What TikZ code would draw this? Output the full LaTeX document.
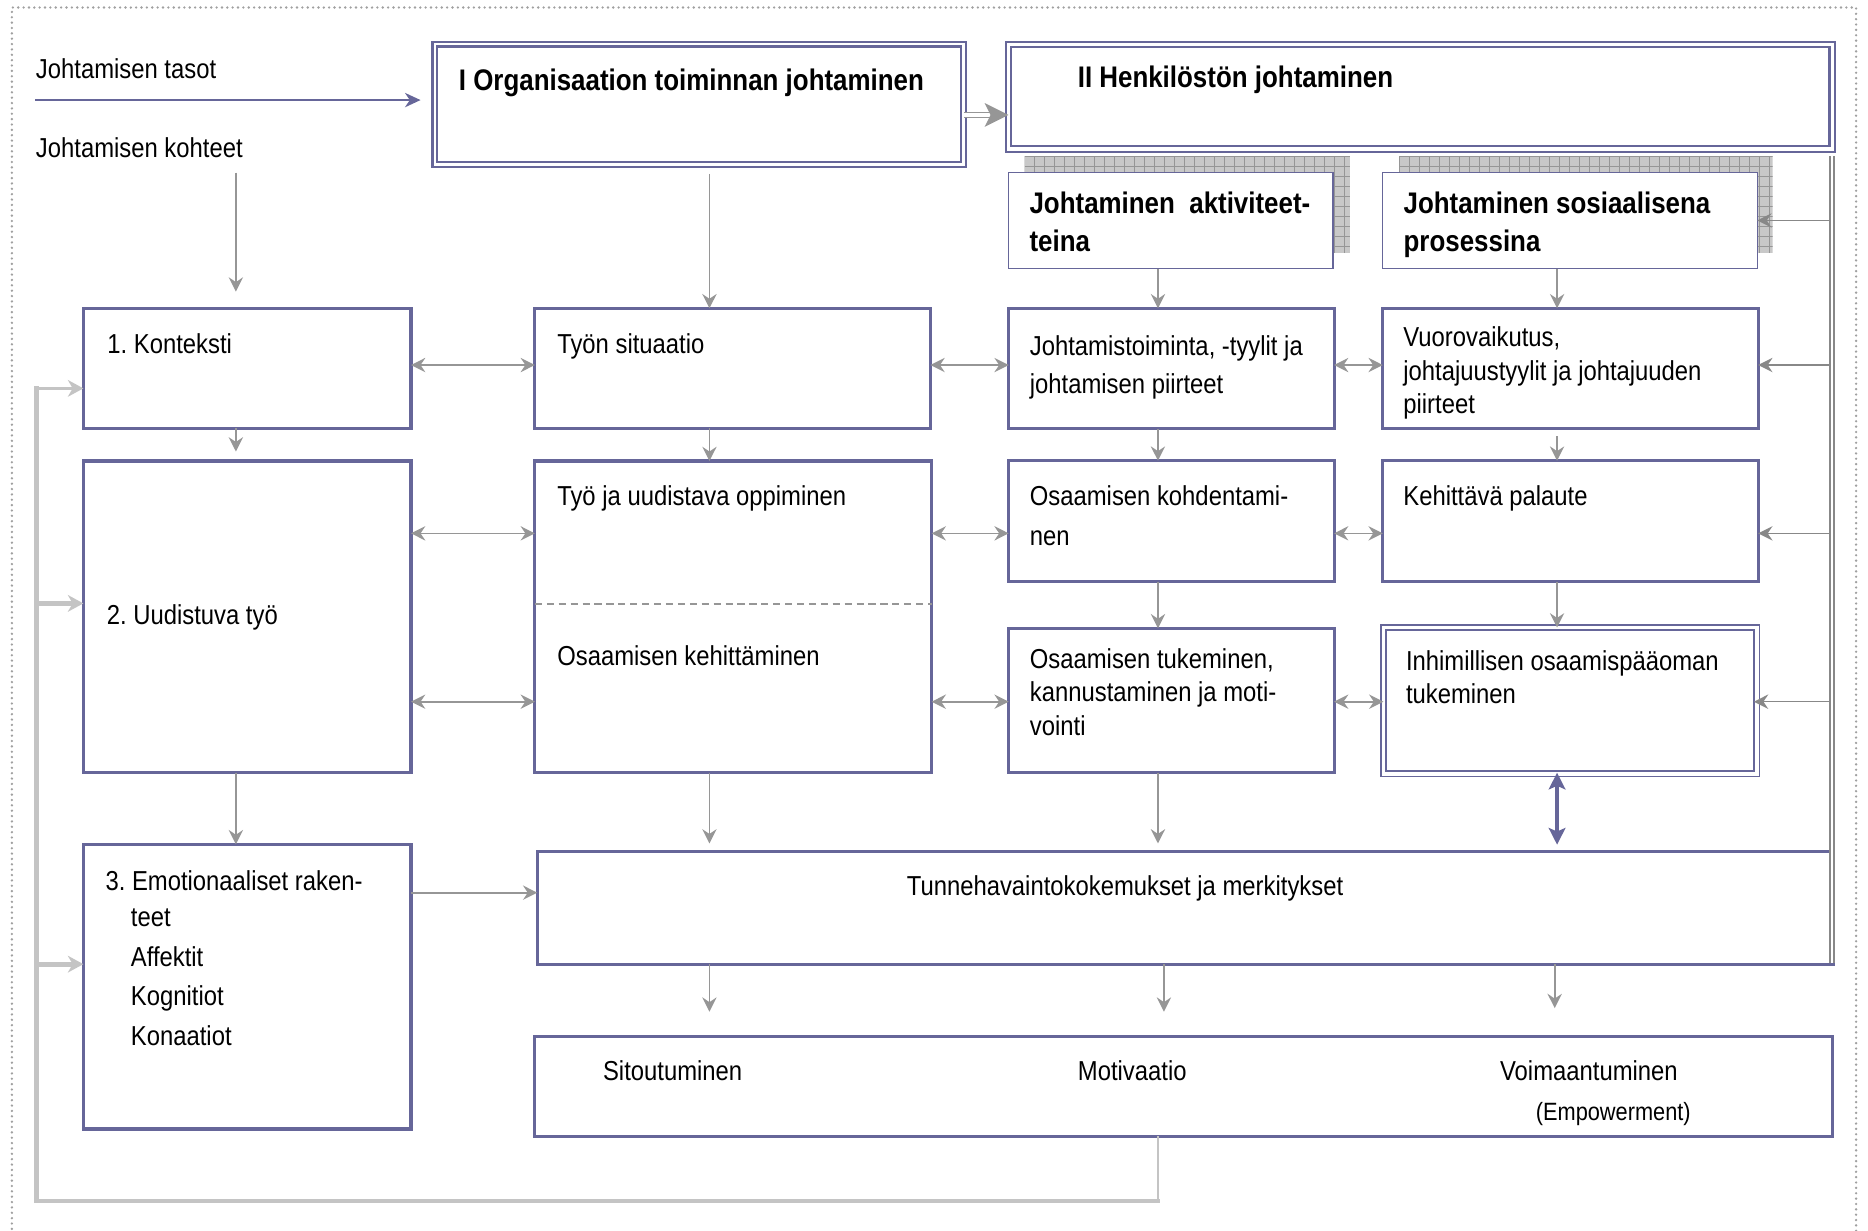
\documentclass[tikz,border=0pt]{standalone}
\usepackage{fontspec}
\setmainfont{Liberation Sans}[FakeStretch=0.87]
\frenchspacing
\usetikzlibrary{arrows.meta,fit,calc}
\definecolor{boxblue}{RGB}{102,102,153}
\definecolor{arrgray}{RGB}{150,150,150}
\definecolor{feedgray}{RGB}{136,136,136}
\definecolor{loopgray}{RGB}{196,196,196}
\definecolor{dotgray}{RGB}{160,160,160}
\definecolor{shadegray}{RGB}{200,200,200}
\definecolor{shadeline}{RGB}{150,150,150}

\begin{document}
\begin{tikzpicture}[x=1pt,y=-1pt,
  box/.style={draw=boxblue, line width=2.6pt, inner sep=0pt, outer sep=0pt},
  dbox/.style={draw=boxblue, double=white, inner sep=0pt, outer sep=0pt},
  hbox/.style={draw=boxblue, line width=1.2pt, inner sep=0pt, outer sep=0pt, fill=white},
  txt/.style={inner sep=0pt, anchor=north west, align=left, font=\fontsize{23}{32}\selectfont},
  ttl/.style={inner sep=0pt, anchor=north west, align=left, font=\fontsize{25}{31.5}\selectfont\bfseries},
  tip/.tip={Stealth[length=12pt,width=12pt,inset=4pt]},
  bi/.style={draw=arrgray, line width=1.4pt, tip-tip},
  dn/.style={draw=arrgray, line width=1.4pt, -tip},
  fd/.style={draw=feedgray, line width=1.3pt, -tip},
  lvl/.style={draw=boxblue, line width=1.8pt, -{Stealth[length=13pt,width=12pt,inset=4pt]}},
  dshaft/.style={draw=arrgray, double=white, line width=1.6pt, double distance=2.6pt},
  pp/.style={draw=boxblue, line width=3.4pt, {Stealth[length=14pt,width=14pt,inset=3pt]}-{Stealth[length=14pt,width=14pt,inset=3pt]}},
  lp/.style={draw=loopgray, -{Stealth[length=13pt,width=14pt,inset=4pt]}},
]
\useasboundingbox (0,0) rectangle (1568,1033);

% dotted frame
\draw[dotgray, line width=2.2pt, line cap=round, dash pattern=on 0pt off 4.5pt]
  (10,1045) -- (10,6.3) -- (1558,6.3) -- (1558,1045);

% guide coordinates for columns and rows
\coordinate (cx1) at (198,0);
\coordinate (cx2) at (595.5,0);
\coordinate (cx3) at (972,0);
\coordinate (cx3b) at (977,0);
\coordinate (cx4) at (1307,0);
\coordinate (cx4b) at (1305,0);
\coordinate (r0) at (0,96.5);
\coordinate (r1) at (0,306.4);
\coordinate (r2) at (0,447.7);
\coordinate (r3) at (0,589);
\coordinate (r4) at (0,749.3);
\coordinate (rd) at (0,507);

% level headers
\node[dbox, line width=1.8pt, double distance=2.2pt, fit={(365,37) (809,138)}] (orgI) {};
\node[dbox, line width=1.8pt, double distance=2.8pt, fit={(846.5,37.3) (1538,125)}] (hrII) {};

% grid shadows behind the two leadership views
\foreach \xa/\xb in {860/1133, 1174.5/1488}{
  \begin{scope}
    \clip (\xa,131) rectangle (\xb,212);
    \fill[shadegray] (\xa,131) rectangle (\xb,212);
    \foreach \i in {0,...,40}{
      \draw[shadeline, line width=0.5pt] (\xa+\i*8.4,131) -- ++(0,90);
    }
    \foreach \j in {0,...,10}{
      \draw[shadeline, line width=0.5pt] (\xa,131+\j*8.4) -- ++(340,0);
    }
  \end{scope}
}
\node[hbox, fit={(846.6,144.6) (1119,225.5)}] (ha) {};
\node[hbox, fit={(1160.6,144.6) (1475,225.5)}] (hs) {};

% main grid of boxes
\node[box, fit={(70,258.8) (345,359.6)}] (k1) {};
\node[box, fit={(70,387) (345,648.6)}] (k2) {};
\node[box, fit={(70,708.7) (345,947.7)}] (k3) {};
\node[box, fit={(449,258.8) (781,359.6)}] (s1) {};
\node[box, fit={(449,387) (782,648.6)}] (s2) {};
\node[box, fit={(846.7,258.8) (1119.8,360)}] (a1) {};
\node[box, fit={(846.7,386.7) (1119.8,488.3)}] (a2) {};
\node[box, fit={(846.7,527.4) (1119.8,648.6)}] (a3) {};
\node[box, fit={(1160.7,258.8) (1475.8,360)}] (p1) {};
\node[box, fit={(1160.7,386.7) (1475.8,488.3)}] (p2) {};
\node[dbox, line width=1.5pt, double distance=2.8pt, fit={(1161.2,526.7) (1474.7,649.6)}] (p3) {};
\node[box, fit={(451,715) (1539,809.5)}] (tun) {};
\node[box, fit={(448.6,870.2) (1538,953.6)}] (out) {};

% dashed split inside the work box
\draw[arrgray, line width=1pt, dash pattern=on 6pt off 4pt] (s2.west |- rd) -- (s2.east |- rd);

% texts
\node[txt] (tasot) at (30,48.7) {Johtamisen tasot};
\node[txt] (kohteet) at (30,115.7) {Johtamisen kohteet};
\node[ttl] (torgI) at (385,58) {I Organisaation toiminnan johtaminen};
\node[ttl] (thrII) at (904.5,55) {II Henkilöstön johtaminen};
\node[ttl] (tha) at (864,161) {Johtaminen\ \ aktiviteet-\\teina};
\node[ttl] (ths) at (1178,161) {Johtaminen sosiaalisena\\prosessina};
\node[txt] (tk1) at (90,279.7) {1. Konteksti};
\node[txt] (ts1) at (467.6,279.7) {Työn situaatio};
\node[txt, font=\fontsize{23}{32.2}\selectfont] (ta1) at (864.3,281.3) {Johtamistoiminta, -tyylit ja\\johtamisen piirteet};
\node[txt, font=\fontsize{23}{28}\selectfont] (tp1) at (1177.8,274.3) {Vuorovaikutus,\\johtajuustyylit ja johtajuuden\\piirteet};
\node[txt] (tk2) at (89.5,507.7) {2. Uudistuva työ};
\node[txt] (ts2a) at (467.6,407.2) {Työ ja uudistava oppiminen};
\node[txt] (ts2b) at (467.6,541.7) {Osaamisen kehittäminen};
\node[txt, font=\fontsize{23}{33.5}\selectfont] (ta2) at (864.3,407.2) {Osaamisen kohdentami-\\nen};
\node[txt] (tp2) at (1177.8,407.2) {Kehittävä palaute};
\node[txt, font=\fontsize{23}{28}\selectfont] (ta3) at (864.3,544.3) {Osaamisen tukeminen,\\kannustaminen ja moti-\\vointi};
\node[txt, font=\fontsize{23}{28}\selectfont] (tp3) at (1180,545.7) {Inhimillisen osaamispääoman\\tukeminen};
\node[txt] (tk3a) at (88.4,730.4) {3. Emotionaaliset raken-};
\node[txt, font=\fontsize{23}{33.4}\selectfont] (tk3b) at (109.7,762.4) {teet\\Affektit\\Kognitiot\\Konaatiot};
\node[txt] (ttun) at (761,734.7) {Tunnehavaintokokemukset ja merkitykset};
\node[txt] (tsit) at (506,889.7) {Sitoutuminen};
\node[txt] (tmot) at (904.6,889.7) {Motivaatio};
\node[txt] (tvoi) at (1259,889.7) {Voimaantuminen};
\node[txt, font=\fontsize{21}{26}\selectfont] (temp) at (1289,925.4) {(Empowerment)};

% level arrow and link between the two levels
\coordinate (lv0) at (29.5,84);
\draw[lvl, shorten >=12pt] (lv0) -- (orgI.west |- lv0);
\draw[dshaft, shorten >=12pt] (orgI.east |- r0) -- (hrII.west |- r0);
\fill[arrgray] (hrII.west |- r0) -- ++(-20,-10) -- ++(5,10) -- ++(-5,10) -- cycle;

% downward flow
\coordinate (kd) at (198,145);
\draw[dn, shorten >=14pt] (kd) -- (kd |- k1.north);
\draw[dn, shorten <=8pt] (orgI.south -| cx2) -- (s1.north -| cx2);
\draw[dn] (ha.south -| cx3) -- (a1.north -| cx3);
\draw[dn] (hs.south -| cx4) -- (p1.north -| cx4);
\draw[dn, shorten >=8pt] (k1.south -| cx1) -- (k2.north -| cx1);
\draw[dn] (s1.south -| cx2) -- (s2.north -| cx2);
\draw[dn] (a1.south -| cx3) -- (a2.north -| cx3);
\draw[dn, shorten <=6pt] (p1.south -| cx4) -- (p2.north -| cx4);
\draw[dn] (a2.south -| cx3) -- (a3.north -| cx3);
\draw[dn] (p2.south -| cx4) -- (p3.north -| cx4);
\draw[dn] (k2.south -| cx1) -- (k3.north -| cx1);
\draw[dn, shorten >=7pt] (s2.south -| cx2) -- (tun.north -| cx2);
\draw[dn, shorten >=7pt] (a3.south -| cx3) -- (tun.north -| cx3);
\draw[pp, shorten >=6pt, shorten <=-1pt] (p3.south -| cx4) -- (tun.north -| cx4);
\draw[dn] (k3.east |- r4) -- (tun.west |- r4);
\draw[dn, shorten >=21pt] (tun.south -| cx2) -- (out.north -| cx2);
\draw[dn, shorten >=21pt] (tun.south -| cx3b) -- (out.north -| cx3b);
\draw[dn, shorten >=24pt] (tun.south -| cx4b) -- (out.north -| cx4b);

% two-way links between columns
\foreach \l/\m/\r in {k1/s1/r1, s1/a1/r1, a1/p1/r1,
                      k2/s2/r2, s2/a2/r2, a2/p2/r2,
                      k2/s2/r3, s2/a3/r3, a3/p3/r3}{
  \draw[bi] (\l.east |- \r) -- (\m.west |- \r);
}

% feed from the personnel level on the right
\coordinate (ft) at (1537.7,131);
\coordinate (fb) at (1537.7,808);
\draw[draw=feedgray, double=white, line width=1.5pt, double distance=1.4pt] (ft) -- (fb);
\draw[fd, shorten <=1.5pt] (ft |- hs.east) -- (hs.east);
\draw[fd, shorten <=1.5pt] (ft |- r1) -- (p1.east |- r1);
\draw[fd, shorten <=1.5pt] (ft |- r2) -- (p2.east |- r2);
\draw[fd, shorten <=1.5pt, shorten >=-2.5pt] (ft |- r3) -- (p3.east |- r3);

% feedback loop back to the targets
\coordinate (lb) at (30.5,1008);
\coordinate (lt) at (30.5,326);
\coordinate (lm) at (30.5,506.5);
\coordinate (ll) at (30.5,809.3);
\draw[loopgray, line width=2.2pt] (out.south -| cx3) -- (cx3 |- lb);
\draw[loopgray, line width=3.8pt, line cap=rect, line join=miter] (cx3 |- lb) -- (lb) -- (lt);
\draw[lp, line width=2.6pt] (lt) -- (k1.west |- lt);
\draw[lp, line width=4pt] (lm) -- (k2.west |- lm);
\draw[lp, line width=4pt] (ll) -- (k3.west |- ll);
\end{tikzpicture}
\end{document}
